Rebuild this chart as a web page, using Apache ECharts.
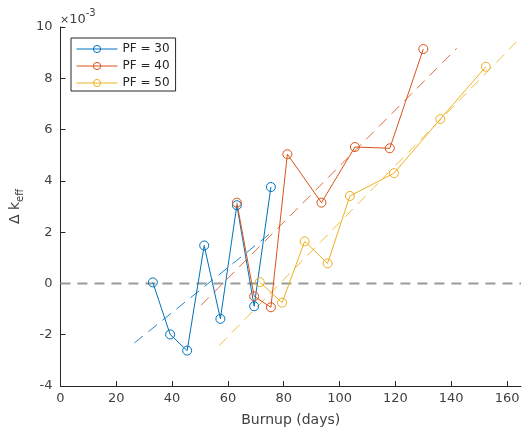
<!DOCTYPE html>
<html>
<head>
<meta charset="utf-8">
<script src="https://cdn.jsdelivr.net/npm/echarts@6/dist/echarts.min.js"></script>
<style>html,body{margin:0;padding:0;background:#fff}#c{width:526px;height:437px}</style>
</head>
<body>
<div id="c"></div>
<script>
// Data (values in units of 1e-3)
const xTicks = [0, 20, 40, 60, 80, 100, 120, 140, 160];
const yTicks = [-4, -2, 0, 2, 4, 6, 8, 10];
const seriesNames = ['PF = 30', 'PF = 40', 'PF = 50'];
const pf30X = [33.1, 39.3, 45.4, 51.5, 57.3, 63.2, 69.4, 75.4];
const pf30Y = [0.04, -1.99, -2.62, 1.48, -1.38, 3.05, -0.89, 3.76];
const pf40X = [63.2, 69.4, 75.4, 81.3, 93.5, 105.5, 118.0, 130.0];
const pf40Y = [3.15, -0.50, -0.93, 5.04, 3.15, 5.32, 5.27, 9.14];
const pf50X = [71.4, 79.4, 87.5, 95.7, 103.7, 119.5, 136.1, 152.4];
const pf50Y = [0.05, -0.75, 1.64, 0.78, 3.41, 4.30, 6.41, 8.45];
const fit30X = [26.5, 75.4], fit30Y = [-2.32, 1.97];
const fit40X = [50.4, 142.0], fit40Y = [-0.85, 9.17];
const fit50X = [56.9, 165.0], fit50Y = [-2.42, 9.60];
const zeroX = [0, 165], zeroY = [0, 0];

const colors = ['#0072BD', '#D95319', '#EDB120'];
const zip = (xs, ys) => xs.map((x, i) => [x, ys[i]]);
const font = 'DejaVu Sans';
const txt = '#404040';
const axisCol = '#262626';

function dataSeries(name, xs, ys, color) {
  return {
    name, type: 'line', data: zip(xs, ys), color,
    symbol: 'circle', symbolSize: 9,
    lineStyle: { width: 1, color },
    itemStyle: { color: 'rgba(255,255,255,0)', borderColor: color, borderWidth: 1 },
    z: 3, animation: false
  };
}
function fitSeries(xs, ys, color, z) {
  return {
    type: 'line', data: zip(xs, ys), symbol: 'none', silent: true,
    lineStyle: { width: 1, color, type: [11, 7], opacity: 0.85 },
    z: z || 2, animation: false, legendHoverLink: false
  };
}

const chart = echarts.init(document.getElementById('c'), null, { renderer: 'canvas' });
chart.setOption({
  animation: false,
  backgroundColor: '#fff',
  grid: { left: 59, right: 5, top: 27, bottom: 51, containLabel: false },
  legend: {
    data: seriesNames,
    orient: 'vertical', left: 71, top: 38,
    itemWidth: 41, itemHeight: 9, itemGap: 5,
    padding: [5, 6, 2, 5],
    borderColor: axisCol, borderWidth: 1, backgroundColor: '#fff',
    lineStyle: { width: 1 },
    itemStyle: { borderWidth: 1 },
    textStyle: { fontFamily: font, fontSize: 12, color: axisCol },
    borderRadius: 0
  },
  xAxis: {
    type: 'value', min: 0, max: 165, interval: 20,
    name: 'Burnup (days)', nameLocation: 'middle', nameGap: 27,
    nameTextStyle: { fontFamily: font, fontSize: 14, color: txt },
    axisLine: { onZero: false, lineStyle: { color: axisCol, width: 1 } },
    axisTick: { inside: true, length: 5, customValues: xTicks, lineStyle: { color: axisCol } },
    axisLabel: { customValues: xTicks, fontFamily: font, fontSize: 13, color: txt, margin: 6 },
    splitLine: { show: false }
  },
  yAxis: {
    type: 'value', min: -4, max: 10, interval: 2,
    name: '{d|Δ k}{s|eff}', nameLocation: 'middle', nameGap: 32, nameRotate: 90,
    nameTextStyle: {
      rich: {
        d: { fontFamily: font, fontSize: 14, color: txt, lineHeight: 20 },
        s: { fontFamily: font, fontSize: 10, color: txt, lineHeight: 10, verticalAlign: 'bottom' }
      }
    },
    axisLine: { onZero: false, lineStyle: { color: axisCol, width: 1 } },
    axisTick: { inside: true, length: 5, customValues: yTicks, lineStyle: { color: axisCol } },
    axisLabel: { customValues: yTicks, fontFamily: font, fontSize: 13, color: txt, margin: 8 },
    splitLine: { show: false }
  },
  graphic: [{
    type: 'text', left: 60, top: 8,
    style: {
      text: '{x|×}{t|10}{e|-3}',
      rich: {
        x: { fontFamily: font, fontSize: 11, fill: txt, lineHeight: 18, verticalAlign: 'bottom' },
        t: { fontFamily: font, fontSize: 13, fill: txt, lineHeight: 18, verticalAlign: 'bottom' },
        e: { fontFamily: font, fontSize: 10, fill: txt, lineHeight: 12, verticalAlign: 'top' }
      }
    }
  }],
  series: [
    {
      type: 'line', data: zip(zeroX, zeroY), symbol: 'none', silent: true,
      lineStyle: { width: 2, color: '#9a9a9a', type: [10, 7] }, z: 1, animation: false
    },
    dataSeries(seriesNames[0], pf30X, pf30Y, colors[0]),
    dataSeries(seriesNames[1], pf40X, pf40Y, colors[1]),
    dataSeries(seriesNames[2], pf50X, pf50Y, colors[2]),
    fitSeries(fit30X, fit30Y, colors[0]),
    fitSeries(fit40X, fit40Y, colors[1]),
    fitSeries(fit50X, fit50Y, colors[2])
  ]
});
</script>
</body>
</html>
